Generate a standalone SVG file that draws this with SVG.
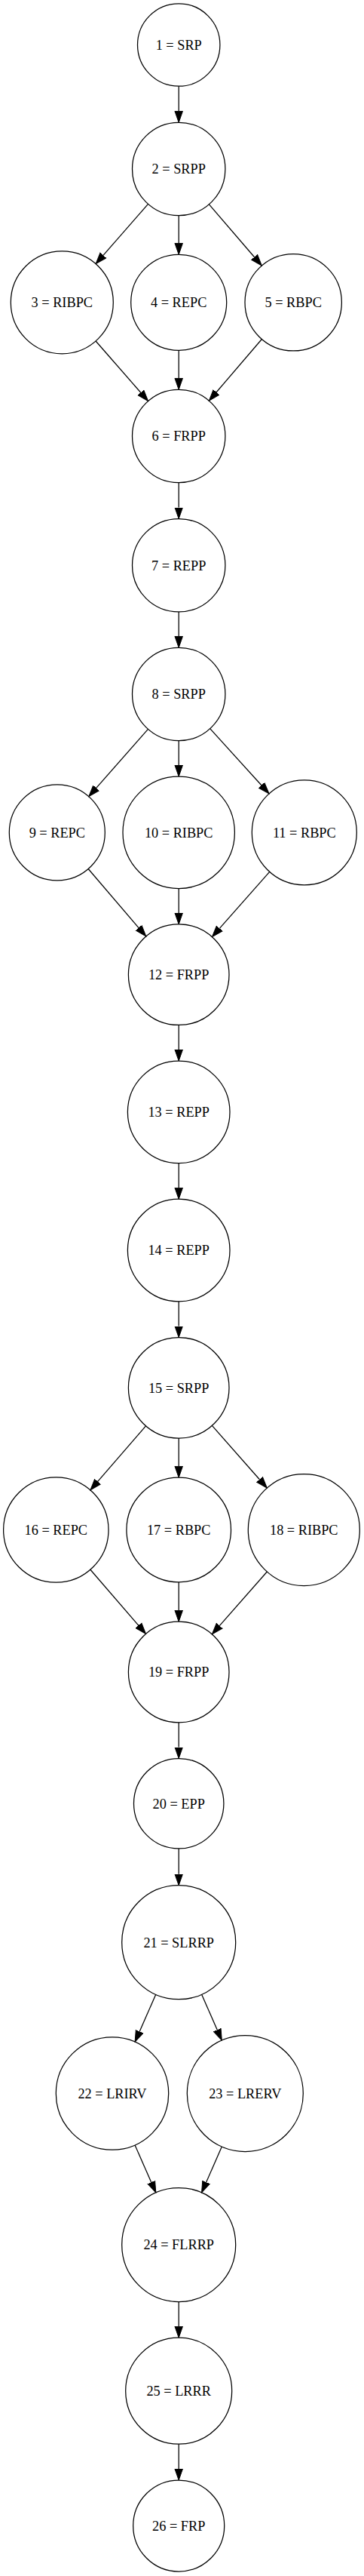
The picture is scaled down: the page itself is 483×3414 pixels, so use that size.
<svg xmlns="http://www.w3.org/2000/svg" width="483" height="3414" viewBox="0 0 483 3414">
<style>
.n circle{fill:none;stroke:#000;stroke-width:1.25}
.n text{font-family:"Liberation Serif","Times New Roman",serif;font-size:18.3px;text-anchor:middle;fill:#000}
.e path{fill:none;stroke:#000;stroke-width:1.25}
</style>
<defs>
<marker id="ah" markerUnits="userSpaceOnUse" markerWidth="16" markerHeight="12" refX="0" refY="5.25" orient="auto" viewBox="0 0 16 10.5">
<path d="M0,0 L15,5.25 L0,10.5 z" fill="#000" stroke="#000" stroke-width="1"/>
</marker>
</defs>
<rect width="483" height="3414" fill="#fff"/>
<g id="connectors" class="e">
<path marker-end="url(#ah)" d="M237.2,114.2 L237.2,147.3"/>
<path marker-end="url(#ah)" d="M196.54,270.41 L137.0,338.38"/>
<path marker-end="url(#ah)" d="M237.2,285.7 L237.2,322.3"/>
<path marker-end="url(#ah)" d="M277.42,270.79 L337.57,340.74"/>
<path marker-end="url(#ah)" d="M127.05,452.0 L186.72,520.25"/>
<path marker-end="url(#ah)" d="M237.2,464.3 L237.2,501.3"/>
<path marker-end="url(#ah)" d="M347.40,449.53 L287.14,519.78"/>
<path marker-end="url(#ah)" d="M237.2,639.7 L237.2,672.5"/>
<path marker-end="url(#ah)" d="M237.2,810.9 L237.2,843.3"/>
<path marker-end="url(#ah)" d="M196.43,966.31 L127.67,1044.39"/>
<path marker-end="url(#ah)" d="M237.2,981.7 L237.2,1014.1"/>
<path marker-end="url(#ah)" d="M278.70,965.66 L346.97,1040.77"/>
<path marker-end="url(#ah)" d="M117.11,1151.52 L183.98,1229.58"/>
<path marker-end="url(#ah)" d="M237.2,1177.5 L237.2,1209.9"/>
<path marker-end="url(#ah)" d="M357.76,1155.36 L291.38,1230.42"/>
<path marker-end="url(#ah)" d="M237.2,1358.5 L237.2,1391.0"/>
<path marker-end="url(#ah)" d="M237.2,1541.6 L237.2,1574.2"/>
<path marker-end="url(#ah)" d="M237.2,1724.8 L237.2,1757.5"/>
<path marker-end="url(#ah)" d="M193.48,1889.81 L129.74,1963.46"/>
<path marker-end="url(#ah)" d="M237.2,1906.1 L237.2,1943.2"/>
<path marker-end="url(#ah)" d="M281.40,1889.39 L344.41,1960.77"/>
<path marker-end="url(#ah)" d="M119.88,2080.24 L183.71,2154.11"/>
<path marker-end="url(#ah)" d="M237.2,2096.8 L237.2,2134.2"/>
<path marker-end="url(#ah)" d="M354.38,2083.02 L291.28,2154.63"/>
<path marker-end="url(#ah)" d="M237.2,2282.8 L237.2,2315.5"/>
<path marker-end="url(#ah)" d="M237.2,2449.9 L237.2,2483.7"/>
<path marker-end="url(#ah)" d="M206.77,2643.30 L185.15,2692.41"/>
<path marker-end="url(#ah)" d="M267.60,2643.31 L288.26,2690.28"/>
<path marker-end="url(#ah)" d="M179.08,2842.88 L200.76,2892.16"/>
<path marker-end="url(#ah)" d="M294.32,2844.99 L273.61,2892.15"/>
<path marker-end="url(#ah)" d="M237.2,3050.5 L237.2,3083.2"/>
<path marker-end="url(#ah)" d="M237.2,3239.2 L237.2,3272.0"/>
</g>
<g id="node1" class="n"><circle cx="237.2" cy="59.5" r="54.7"/><text x="237.2" y="65.8">1 = SRP</text></g>
<g id="node2" class="n"><circle cx="237.2" cy="224" r="61.7"/><text x="237.2" y="230.3">2 = SRPP</text></g>
<g id="node3" class="n"><circle cx="82.3" cy="400.8" r="68"/><text x="82.3" y="407.1">3 = RIBPC</text></g>
<g id="node4" class="n"><circle cx="237.2" cy="400.8" r="63.5"/><text x="237.2" y="407.1">4 = REPC</text></g>
<g id="node5" class="n"><circle cx="389.2" cy="400.8" r="64.2"/><text x="389.2" y="407.1">5 = RBPC</text></g>
<g id="node6" class="n"><circle cx="237.2" cy="578" r="61.7"/><text x="237.2" y="584.3">6 = FRPP</text></g>
<g id="node7" class="n"><circle cx="237.2" cy="749.2" r="61.7"/><text x="237.2" y="755.5">7 = REPP</text></g>
<g id="node8" class="n"><circle cx="237.2" cy="920" r="61.7"/><text x="237.2" y="926.3">8 = SRPP</text></g>
<g id="node9" class="n"><circle cx="75.8" cy="1103.3" r="63.5"/><text x="75.8" y="1109.6">9 = REPC</text></g>
<g id="node10" class="n"><circle cx="237.2" cy="1103.3" r="74.2"/><text x="237.2" y="1109.6">10 = RIBPC</text></g>
<g id="node11" class="n"><circle cx="403.8" cy="1103.3" r="69.5"/><text x="403.8" y="1109.6">11 = RBPC</text></g>
<g id="node12" class="n"><circle cx="237.2" cy="1291.7" r="66.8"/><text x="237.2" y="1298.0">12 = FRPP</text></g>
<g id="node13" class="n"><circle cx="237.2" cy="1473.8" r="67.8"/><text x="237.2" y="1480.1">13 = REPP</text></g>
<g id="node14" class="n"><circle cx="237.2" cy="1657" r="67.8"/><text x="237.2" y="1663.3">14 = REPP</text></g>
<g id="node15" class="n"><circle cx="237.2" cy="1839.3" r="66.8"/><text x="237.2" y="1845.6">15 = SRPP</text></g>
<g id="node16" class="n"><circle cx="74.3" cy="2027.5" r="69.7"/><text x="74.3" y="2033.8">16 = REPC</text></g>
<g id="node17" class="n"><circle cx="237.2" cy="2027.5" r="69.3"/><text x="237.2" y="2033.8">17 = RBPC</text></g>
<g id="node18" class="n"><circle cx="403.3" cy="2027.5" r="74"/><text x="403.3" y="2033.8">18 = RIBPC</text></g>
<g id="node19" class="n"><circle cx="237.2" cy="2216" r="66.8"/><text x="237.2" y="2222.3">19 = FRPP</text></g>
<g id="node20" class="n"><circle cx="237.2" cy="2390.2" r="59.7"/><text x="237.2" y="2396.5">20 = EPP</text></g>
<g id="node21" class="n"><circle cx="237.2" cy="2574.2" r="75.5"/><text x="237.2" y="2580.5">21 = SLRRP</text></g>
<g id="node22" class="n"><circle cx="149" cy="2774.5" r="74.7"/><text x="149" y="2780.8">22 = LRIRV</text></g>
<g id="node23" class="n"><circle cx="325.3" cy="2774.5" r="77"/><text x="325.3" y="2780.8">23 = LRERV</text></g>
<g id="node24" class="n"><circle cx="237.2" cy="2975" r="75.5"/><text x="237.2" y="2981.3">24 = FLRRP</text></g>
<g id="node25" class="n"><circle cx="237.2" cy="3168.7" r="70.5"/><text x="237.2" y="3175.0">25 = LRRR</text></g>
<g id="node26" class="n"><circle cx="237.2" cy="3347.5" r="60.5"/><text x="237.2" y="3353.8">26 = FRP</text></g>
</svg>
